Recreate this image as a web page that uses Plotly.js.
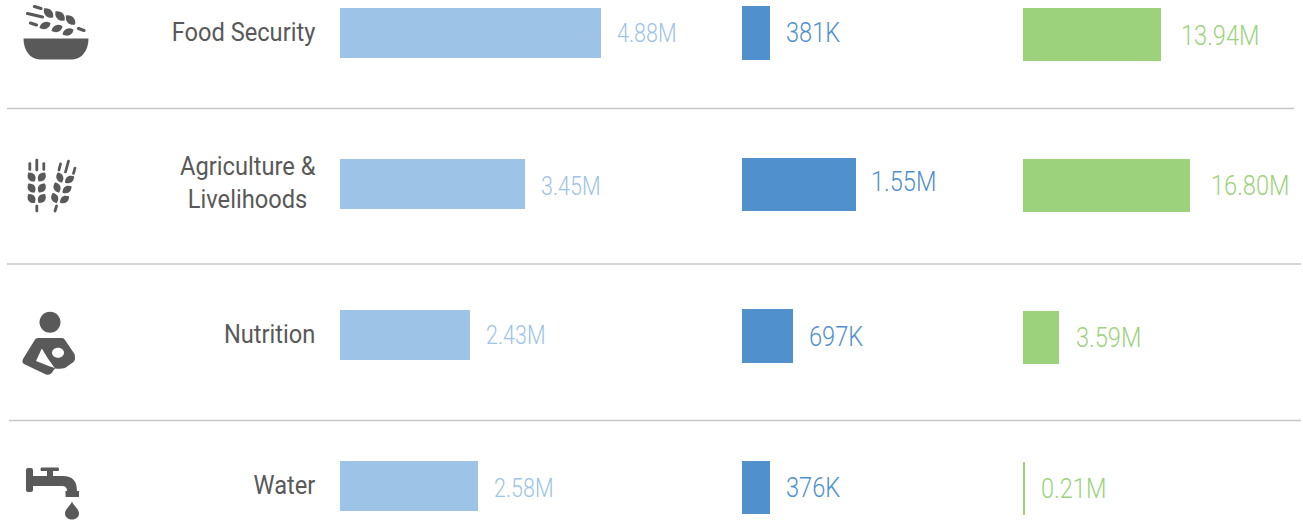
<!DOCTYPE html>
<html><head><meta charset="utf-8">
<script src="https://cdn.plot.ly/plotly-3.0.1.min.js"></script>
<style>
html,body{margin:0;padding:0;background:#fff;overflow:hidden}
#c{width:1303px;height:521px}
.annotation-text{scale:.86 1;transform-box:fill-box;transform-origin:0 50%}
.ytick text{scale:.91 1;transform-box:fill-box;transform-origin:100% 50%}
</style></head><body><div id="c"></div>
<script>
const categories = ['Food Security', 'Agriculture &<br>Livelihoods', 'Nutrition', 'Water'];
const seriesA = [4.88, 3.45, 2.43, 2.58];
const seriesB = [0.381, 1.55, 0.697, 0.376];
const seriesC = [13.94, 16.80, 3.59, 0.21];
const labelsA = ['4.88M', '3.45M', '2.43M', '2.58M'];
const labelsB = ['381K', '1.55M', '697K', '376K'];
const labelsC = ['13.94M', '16.80M', '3.59M', '0.21M'];

const W = 1303, H = 521;
const FONT = 'Roboto, sans-serif';
const GREY = '#595959';
const cols = [
  {vals: seriesA, labels: labelsA, color: '#9dc3e6', left: 340, pxPer: 53.5, top: 32.5, row: 151, bar: 50, size: 25, gaps: [14, 14, 14, 14], dy: [0, -2, 0, -2]},
  {vals: seriesB, labels: labelsB, color: '#5090cd', left: 742, pxPer: 73.5, top: 33, row: 151.5, bar: 53.5, size: 27.5, gaps: [14, 13, 14, 14], dy: [1.5, 3.5, 0.5, 0.5]},
  {vals: seriesC, labels: labelsC, color: '#9dd27d', left: 1023, pxPer: 9.93, top: 34.5, row: 151.3, bar: 53, size: 27.5, gaps: [18, 19, 15, 14], dy: [0, 1, 0, 0]}
];

const traces = [], annotations = [];
const layout = {
  width: W, height: H, margin: {l: 0, r: 0, t: 0, b: 0, pad: 0},
  paper_bgcolor: '#fff', plot_bgcolor: 'rgba(0,0,0,0)', showlegend: false,
  font: {family: FONT, color: GREY}, bargap: 0
};
cols.forEach((c, i) => {
  const s = i === 0 ? '' : String(i + 1);
  traces.push({
    type: 'bar', orientation: 'h', x: c.vals, y: categories,
    width: c.bar / c.row, marker: {color: c.color, line: {width: 0}},
    xaxis: 'x' + s, yaxis: 'y' + s, hoverinfo: 'skip', cliponaxis: false
  });
  layout['xaxis' + s] = {
    domain: [c.left / W, 1], range: [0, (W - c.left) / c.pxPer], visible: false,
    fixedrange: true, anchor: 'y' + s
  };
  layout['yaxis' + s] = {
    type: 'category', categoryorder: 'array', categoryarray: categories,
    domain: [0, 1], range: [(H - c.top) / c.row, -c.top / c.row], anchor: 'x' + s,
    showgrid: false, zeroline: false, showline: false, ticks: '', fixedrange: true,
    showticklabels: i === 0, ticklabelstandoff: 26, ticklabelshift: 1,
    tickfont: {family: FONT, size: 26, color: GREY, weight: 400}
  };
  c.vals.forEach((v, k) => annotations.push({
    xref: 'x' + s, yref: 'y' + s, x: v, y: categories[k], text: c.labels[k],
    xanchor: 'left', yanchor: 'middle', xshift: c.gaps[k], yshift: c.dy[k], showarrow: false,
    font: {family: FONT, size: c.size, color: c.color, weight: 300}
  }));
});
layout.annotations = annotations;

// icon and rule helpers: pixel coordinates converted to paper fractions
const px = d => d.replace(/(-?[\d.]+)[ ,](-?[\d.]+)/g, (m, x, y) => (x / W).toFixed(5) + ' ' + (1 - y / H).toFixed(5));
const fillShape = (d, color = GREY) => ({type: 'path', xref: 'paper', yref: 'paper', path: px(d), fillcolor: color, line: {width: 0}});
function leaf(cx, cy, len, wid, deg) {
  const a = deg * Math.PI / 180, ux = Math.cos(a), uy = Math.sin(a), nx = -uy, ny = ux;
  const p = (t, n) => (cx + ux * t + nx * n).toFixed(2) + ' ' + (cy + uy * t + ny * n).toFixed(2);
  const l = len / 2, w = wid * 0.68;
  return `M${p(-l, 0)} C${p(-l * 0.4, w * 1.1)} ${p(l * 0.5, w)} ${p(l, 0)} C${p(l * 0.5, -w)} ${p(-l * 0.4, -w * 1.1)} ${p(-l, 0)} Z`;
}
function capsule(x1, y1, x2, y2, w) {
  const len = Math.hypot(x2 - x1, y2 - y1), ux = (x2 - x1) / len, uy = (y2 - y1) / len, nx = -uy * w / 2, ny = ux * w / 2, e = w * 0.65;
  const f = (x, y) => x.toFixed(2) + ' ' + y.toFixed(2);
  return `M${f(x1 + nx, y1 + ny)} L${f(x2 + nx, y2 + ny)} C${f(x2 + nx + ux * e, y2 + ny + uy * e)} ${f(x2 - nx + ux * e, y2 - ny + uy * e)} ${f(x2 - nx, y2 - ny)} L${f(x1 - nx, y1 - ny)} C${f(x1 - nx - ux * e, y1 - ny - uy * e)} ${f(x1 + nx - ux * e, y1 + ny - uy * e)} ${f(x1 + nx, y1 + ny)} Z`;
}
function circle(cx, cy, r) { return leafCircle(cx, cy, r, r); }
function leafCircle(cx, cy, rx, ry) {
  const k = 0.5523;
  return `M${cx - rx} ${cy} C${cx - rx} ${cy - ry * k} ${cx - rx * k} ${cy - ry} ${cx} ${cy - ry} C${cx + rx * k} ${cy - ry} ${cx + rx} ${cy - ry * k} ${cx + rx} ${cy} C${cx + rx} ${cy + ry * k} ${cx + rx * k} ${cy + ry} ${cx} ${cy + ry} C${cx - rx * k} ${cy + ry} ${cx - rx} ${cy + ry * k} ${cx - rx} ${cy} Z`;
}

const shapes = [];
[[7, 1294, 108.5], [7, 1301, 264], [9, 1301, 420.5]].forEach(([a, b, y]) => shapes.push({
  type: 'line', xref: 'paper', yref: 'paper', x0: a / W, x1: b / W, y0: 1 - y / H, y1: 1 - y / H,
  line: {color: '#c6c6c6', width: 1.3}
}));
// bowl
shapes.push(fillShape('M23.5 38.5 L88.5 38.5 C88.5 50 82 59.5 72 59.5 L40 59.5 C30 59.5 23.5 50 23.5 38.5 Z'));
[[27.5, 13.5, 42.5, 17, 3.2], [34.5, 6.5, 41, 8.5, 3.2], [30.5, 23, 36.5, 25, 3.2], [78.5, 28.5, 84, 30.5, 3.2]]
  .forEach(a => shapes.push(fillShape(capsule(...a))));
[[48.5, 13, 13, 7, 45], [60, 16, 13, 7, 45], [70.5, 20, 13, 7, 45], [45, 25.5, 12, 6.5, -22], [57, 28.5, 12, 6.5, -22], [68, 32, 12, 6.5, -22]]
  .forEach(a => shapes.push(fillShape(leaf(...a))));
// wheat
[[29.8, 163.5, 29.8, 169.5, 2.8], [36.8, 160, 36.8, 170, 2.8], [43.8, 163.5, 43.8, 169.5, 2.8], [36.8, 206, 36.8, 211, 2.8],
 [60.5, 164, 59, 170, 2.8], [68.5, 161, 65.5, 172, 2.8], [75, 168, 73.5, 173.5, 2.8], [56.5, 206, 55, 211, 2.8]]
  .forEach(a => shapes.push(fillShape(capsule(...a))));
[[31.5, 177, 11, 7, 55], [41.8, 177, 11, 7, -55], [31.5, 188, 11, 7, 55], [41.8, 188, 11, 7, -55], [31.5, 198.5, 11, 7, 55], [41.8, 198.5, 11, 7, -55],
 [59.8, 177.5, 11, 6.5, 70], [69.5, 179.5, 11, 6.5, -35], [57, 187.5, 11, 6.5, 70], [67, 189.5, 11, 6.5, -35], [54.7, 198, 11, 6.5, 70], [64.5, 199.5, 11, 6.5, -35]]
  .forEach(a => shapes.push(fillShape(leaf(...a))));
// nursing figure
shapes.push(fillShape(circle(50, 322.3, 10.5)));
shapes.push(fillShape('M38 338 L62 338 Q64 338 65 340 L74.5 354 Q76 359 73.5 362 L65 368 Q62 369 55 368.5 L53 371 Q51 375.5 46 374.5 L24 364 Q21.5 362 23 359 L35 339.5 Q36 338 38 338 Z'));
shapes.push(fillShape('M41.8 348.5 L36 361 L50 366.5 Q53 367 55 368.5 Q47 358 41.8 348.5 Z', '#fff'));
shapes.push(fillShape(leafCircle(58, 352.8, 6, 5), '#fff'));
// faucet
shapes.push(fillShape('M28 468 L31 468 Q33 468 33 470 L33 476 L47 476 L47 471 L41.5 471 Q40.5 471 40.5 469.5 Q40.5 467.5 41.5 467.5 L58 467.5 Q59 467.5 59 469.5 Q59 471 58 471 L53 471 L53 476 L63 476 Q77 476 77 491 L79 491 L79 497 L65.5 497 L65.5 491 L67 491 Q67 486 62 486 L33 486 L33 490 Q33 492 31 492 L28 492 Q26 492 26 490 L26 470 Q26 468 28 468 Z'));
shapes.push(fillShape('M72 501.5 C73 505 79 509 79 513.5 C79 517 76 519.5 72 519.5 C68 519.5 65 517 65 513.5 C65 509 71 505 72 501.5 Z'));
layout.shapes = shapes;

Plotly.newPlot('c', traces, layout, {displayModeBar: false, staticPlot: true}).then(() => {
  // centre the second line of the two-line category label under the first
  const lines = document.querySelectorAll('.ytick tspan.line');
  lines.forEach(t => { if (t.textContent === 'Livelihoods') t.setAttribute('dx', '-9'); });
});
</script></body></html>
